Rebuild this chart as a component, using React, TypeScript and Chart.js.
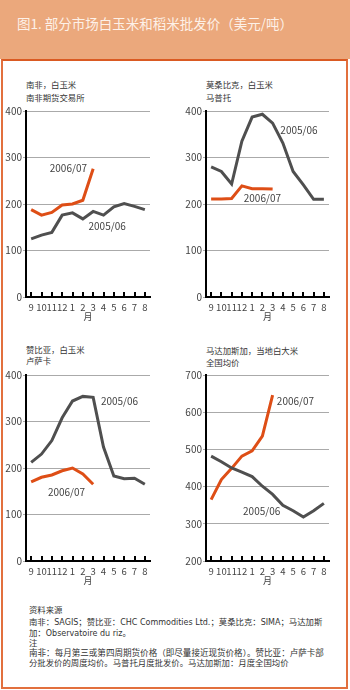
import React, { useEffect, useRef } from "react";
import { Chart, registerables } from "chart.js";
Chart.register(...registerables);

const FONT = '"Noto Sans CJK SC", "Noto Sans", sans-serif';
const TEXT_FONT = '"Noto Sans CJK SC", sans-serif';
const LATIN_FONT = '"DejaVu Sans", "Noto Sans CJK SC", sans-serif';

const months = ["9", "10", "11", "12", "1", "2", "3", "4", "5", "6", "7", "8"];

const saPrev = [125, 133, 139, 176, 181, 168, 184, 176, 194, 201, 195, 188];
const saCur = [188, 176, 182, 198, 200, 208, 276, null, null, null, null, null];

const mozPrev = [280, 270, 243, 335, 387, 393, 374, 331, 270, 241, 210, 210];
const mozCur = [211, 211, 212, 239, 233, 233, 232, null, null, null, null, null];

const zamPrev = [212, 230, 259, 308, 344, 354, 352, 245, 183, 177, 178, 165];
const zamCur = [170, 180, 185, 194, 200, 187, 165, null, null, null, null, null];

const madPrev = [482, 467, 450, 439, 427, 401, 379, 350, 335, 318, 335, 355];
const madCur = [365, 419, 449, 482, 496, 536, 646, null, null, null, null, null];

const yTicksMaize = [0, 100, 200, 300, 400];
const yTicksRice = [200, 300, 400, 500, 600, 700];

const ORANGE = "#DE4E16";
const GRAY = "#4F4F4F";

type Label = { text: string; i: number; v: number };

type PanelProps = {
  left: number;
  top: number;
  width: number;
  height: number;
  yWidth: number;
  padRight: number;
  yTicks: number[];
  prev: (number | null)[];
  cur: (number | null)[];
  labels: Label[];
};

function Panel(p: PanelProps) {
  const ref = useRef<HTMLCanvasElement>(null);
  useEffect(() => {
    if (!ref.current) return;
    const overlay = {
      id: "overlay",
      afterDraw(chart: any) {
        const { ctx, chartArea } = chart;
        const x = chart.scales.x;
        const y = chart.scales.y;
        ctx.save();
        ctx.strokeStyle = "#000";
        ctx.lineWidth = 2;
        for (let i = 0; i < x.ticks.length; i++) {
          const px = Math.round(x.getPixelForTick(i));
          ctx.beginPath();
          ctx.moveTo(px, chartArea.bottom);
          ctx.lineTo(px, chartArea.bottom - 5);
          ctx.stroke();
        }
        ctx.fillStyle = "#444";
        ctx.textAlign = "center";
        ctx.textBaseline = "middle";
        ctx.font = `9px ${FONT}`;
        ctx.fillText("月", (chartArea.left + chartArea.right) / 2, chartArea.bottom + 20);
        ctx.font = `10px ${FONT}`;
        for (const l of p.labels) {
          ctx.fillText(l.text, x.getPixelForValue(l.i), y.getPixelForValue(l.v));
        }
        ctx.restore();
      },
    };
    const chart = new Chart(ref.current, {
      type: "line",
      data: {
        labels: months,
        datasets: [
          { data: p.prev as any, borderColor: GRAY, borderWidth: 3, pointRadius: 0, tension: 0, spanGaps: false },
          { data: p.cur as any, borderColor: ORANGE, borderWidth: 3, pointRadius: 0, tension: 0, spanGaps: false },
        ],
      },
      options: {
        animation: false,
        responsive: false,
        maintainAspectRatio: false,
        devicePixelRatio: 1,
        layout: { padding: { top: 11, right: p.padRight, left: 0, bottom: 0 } },
        plugins: { legend: { display: false }, tooltip: { enabled: false } },
        scales: {
          x: {
            offset: true,
            grid: { display: false, drawTicks: false },
            border: { display: true, color: "#000", width: 2 },
            ticks: {
              autoSkip: false,
              maxRotation: 0,
              minRotation: 0,
              padding: 5,
              color: "#444",
              font: { size: 9.5, family: FONT },
            },
            afterFit: (s: any) => {
              s.height = 33;
            },
          },
          y: {
            min: p.yTicks[0],
            max: p.yTicks[p.yTicks.length - 1],
            afterBuildTicks: (s: any) => {
              s.ticks = p.yTicks.map((v) => ({ value: v }));
            },
            ticks: { color: "#444", font: { size: 10, family: FONT }, padding: 1 },
            grid: { color: "#AAAAAA", lineWidth: 1, tickLength: 3, drawTicks: true },
            border: { display: true, color: "#000", width: 2 },
            afterFit: (s: any) => {
              s.width = p.yWidth;
            },
          },
        },
      },
      plugins: [overlay],
    });
    return () => chart.destroy();
  }, []);
  return (
    <canvas
      ref={ref}
      width={p.width}
      height={p.height}
      style={{ position: "absolute", left: p.left, top: p.top, width: p.width, height: p.height }}
    />
  );
}

const lineStyle = (top: number, left: number, size: number): React.CSSProperties => ({
  position: "absolute",
  top,
  left,
  fontSize: size,
  lineHeight: "10px",
  color: "#333",
  whiteSpace: "nowrap",
  fontFamily: TEXT_FONT,
});

const txt = (top: number, left: number, text: string, size = 8.4) => (
  <div style={lineStyle(top, left, size)}>{text}</div>
);

const L = (s: string) => <span style={{ fontFamily: LATIN_FONT, fontSize: 8 }}>{s}</span>;

export default function App() {
  return (
    <div
      style={{
        position: "absolute",
        left: 0,
        top: 0,
        width: 350,
        height: 690,
        background: "#fff",
        overflow: "hidden",
        fontFamily: TEXT_FONT,
      }}
    >
      <div style={{ position: "absolute", left: 0, top: 0, width: 350, height: 59, background: "#EBA87C" }} />
      <div
        style={{
          position: "absolute",
          left: 17,
          top: 13,
          fontSize: 13.5,
          lineHeight: "20px",
          color: "#FDF1E8",
          whiteSpace: "nowrap",
        }}
      >
        图1. 部分市场白玉米和稻米批发价（美元/吨）
      </div>
      <div
        style={{
          position: "absolute",
          left: 1,
          top: 59,
          width: 347,
          height: 630,
          boxSizing: "border-box",
          borderLeft: "2px solid #E2703E",
          borderRight: "2px solid #E2703E",
          borderBottom: "2px solid #E2703E",
          borderTop: "2px solid #DA5A22",
        }}
      />
      {txt(79, 26, "南非，白玉米")}
      {txt(92, 26, "南非期货交易所")}
      {txt(79, 206, "莫桑比克，白玉米")}
      {txt(92, 206, "马普托")}
      {txt(344, 26, "赞比亚，白玉米")}
      {txt(354.5, 26, "卢萨卡")}
      {txt(345, 206, "马达加斯加，当地白大米")}
      {txt(356.5, 206, "全国均价")}

      <Panel
        left={0}
        top={100}
        width={175}
        height={230}
        yWidth={26}
        padRight={25}
        yTicks={yTicksMaize}
        prev={saPrev}
        cur={saCur}
        labels={[
          { text: "2006/07", i: 3.6, v: 277 },
          { text: "2005/06", i: 7.35, v: 153 },
        ]}
      />
      <Panel
        left={175}
        top={100}
        width={175}
        height={230}
        yWidth={31}
        padRight={21}
        yTicks={yTicksMaize}
        prev={mozPrev}
        cur={mozCur}
        labels={[
          { text: "2005/06", i: 8.57, v: 359 },
          { text: "2006/07", i: 5.0, v: 213 },
        ]}
      />
      <Panel
        left={0}
        top={364}
        width={175}
        height={230}
        yWidth={26}
        padRight={25}
        yTicks={yTicksMaize}
        prev={zamPrev}
        cur={zamCur}
        labels={[
          { text: "2005/06", i: 8.55, v: 344 },
          { text: "2006/07", i: 3.42, v: 148 },
        ]}
      />
      <Panel
        left={175}
        top={364}
        width={175}
        height={230}
        yWidth={31}
        padRight={21}
        yTicks={yTicksRice}
        prev={madPrev}
        cur={madCur}
        labels={[
          { text: "2006/07", i: 8.23, v: 630 },
          { text: "2005/06", i: 4.93, v: 334 },
        ]}
      />

      {txt(604, 29, "资料来源")}
      <div style={lineStyle(615.7, 29, 8.4)}>
        南非：{L("SAGIS")}；赞比亚：{L("CHC Commodities Ltd.")}；莫桑比克：{L("SIMA")}；马达加斯
      </div>
      <div style={lineStyle(627, 29, 8.4)}>
        加：{L("Observatoire du riz")}。
      </div>
      {txt(636.7, 29, "注")}
      {txt(647.3, 29, "南非：每月第三或第四周期货价格（即尽量接近现货价格）。赞比亚：卢萨卡部", 8.55)}
      {txt(657.3, 29, "分批发价的周度均价。马普托月度批发价。马达加斯加：月度全国均价")}
    </div>
  );
}
